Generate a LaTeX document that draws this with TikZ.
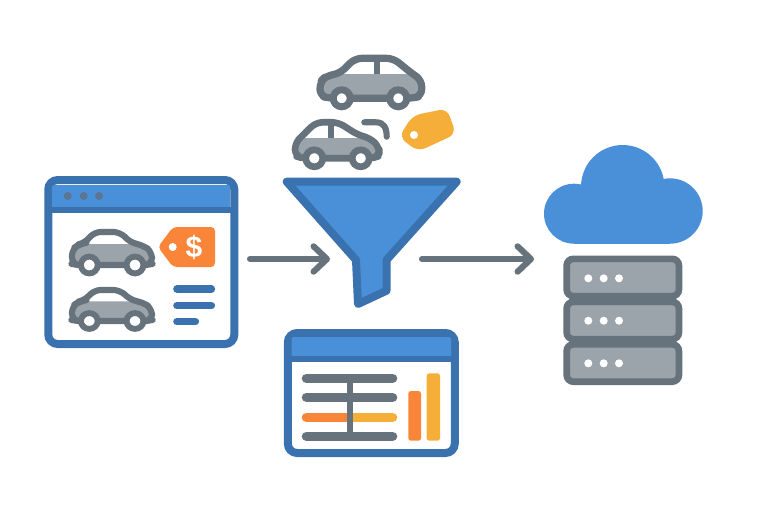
\documentclass[tikz,border=0pt]{standalone}
\usepackage{fontspec}
\setmainfont{Liberation Sans}
\usetikzlibrary{arrows.meta}
\definecolor{bluedark}{HTML}{3A72B0}
\definecolor{bluelight}{HTML}{4A90D9}
\definecolor{graydark}{HTML}{66727C}
\definecolor{grayfill}{HTML}{9BA3AB}
\definecolor{tagorange}{HTML}{F98539}
\definecolor{tagyellow}{HTML}{F5AE37}
\definecolor{dotgray}{HTML}{5C7592}
\tikzset{
  carline/.style={draw=graydark,line width=#1,line join=round,line cap=round,rounded corners=5pt},
  carfill/.style={fill=grayfill,rounded corners=3pt},
  wheel/.style={draw=graydark,fill=white,line width=#1},
  framebox/.style={draw=bluedark,fill=white,line width=6pt,rounded corners=7pt,inner sep=0pt,outer sep=0pt},
  headfill/.style={fill=bluelight,rounded corners=1.5pt},
  flow/.style={draw=graydark,line width=4.6pt,line cap=round,line join=round,-{Straight Barb[length=10pt,width=19pt,round]}},
  listline/.style={draw=bluedark,line width=5.4pt,line cap=round},
  rowline/.style={draw=graydark,line width=7.2pt,line cap=round},
  serverunit/.style={draw=graydark,fill=grayfill,line width=5pt,rounded corners=5pt,inner sep=0pt,outer sep=0pt,minimum width=84.2pt,minimum height=28pt},
}
\newcommand{\sitecar}{%
  \path[carfill] (-38,-21) -- (34,-21) -- (39,-14) -- (39,-3) -- (33,0) -- (-38,0) -- (-40,-8) -- cycle;
  \draw[carline=4.6pt] (-34,0) -- (-40,-1) -- (-40,-16) -- (-32,-21) -- (-27,-22) -- (-18,-33) -- (8,-33) -- (19,-22) -- (31,-20) -- (40,-13) -- (40,-1) -- (34,0) -- cycle;
  \draw[wheel=4.4pt] (-22.7,0) circle (8.4);
  \draw[wheel=4.4pt] (23,0) circle (8.4);
}
\begin{document}
\begin{tikzpicture}[x=.75pt,y=-.75pt]
\useasboundingbox (0,0) rectangle (768,512);
\fill[white] (0,0) rectangle (768,512);

% listing window
\node[framebox,minimum width=139.5pt,minimum height=123pt] (site) at (141.3,262) {};
\path[headfill] (52,185) rectangle (230,208);
\fill[bluedark] (50,207) rectangle (232.6,213);
\foreach \x in {67.7,83.7,99} \fill[dotgray] (\x,196) circle (4);
\begin{scope}[shift={(112,265)}]\sitecar\end{scope}
\begin{scope}[shift={(112,321)},yscale=.94]\sitecar\end{scope}
\fill[tagorange,rounded corners=3pt] (158,247) -- (173,227) -- (215,227) -- (215,267) -- (173,267) -- cycle;
\fill[white] (172.7,247) circle (4);
\node[text=white,font=\bfseries\fontsize{22.5}{22.5}\selectfont,inner sep=0pt] (price) at (194,247) {\$};
\draw[listline] (176.8,289) -- (211.5,289);
\draw[listline] (176.8,305.7) -- (211.5,305.7);
\draw[listline] (176.8,321.7) -- (195.5,321.7);

% cars above funnel
\path[carfill] (322,74) -- (410,74) -- (420,81) -- (420,96) -- (322,96) -- cycle;
\draw[carline=5.4pt] (330,98.3) -- (320,96) -- (320,82) -- (326,76) -- (340,73.3) -- (355,58.3) -- (393.3,58.3) -- (411.7,73.3) -- (421.7,80) -- (421.7,96) -- (412,98.3) -- cycle;
\draw[graydark,line width=4.5pt] (377.3,58.3) -- (377.3,74);
\draw[wheel=5.2pt] (341.7,98.3) circle (8.5);
\draw[wheel=5.2pt] (398.3,98.3) circle (8.5);

\path[carfill] (297,138) -- (368,138) -- (378,146) -- (378,156) -- (297,156) -- cycle;
\draw[carline=5pt] (303,158.3) -- (295,156) -- (295,143) -- (303,135) -- (316,122.3) -- (338.3,122.3) -- (358,135) -- (370,138) -- (379.3,147) -- (379.3,156) -- (372,158.3) -- cycle;
\draw[graydark,line width=4.2pt] (330.7,122.3) -- (330.7,138);
\draw[wheel=5pt] (314.3,158.3) circle (8.5);
\draw[wheel=5pt] (360.7,158.3) circle (8.5);
\draw[graydark,line width=4.6pt,line cap=round] (364.3,122.3) -- (376,122.3) .. controls (384,122.3) and (386.7,128) .. (386.7,136.7);
\fill[tagyellow,rounded corners=6pt] (399,137) -- (412.7,115.5) -- (447,108.5) -- (456,134) -- (418,151.5) -- cycle;
\fill[white] (414,135) circle (4);

% funnel
\draw[draw=bluedark,fill=bluelight,line width=6pt,line join=round] (286.7,181.7) -- (456.7,181.7) -- (386.5,260) -- (386.5,290.7) -- (358,304) -- (356,260) -- cycle;

% report window
\node[framebox,minimum width=125.2pt,minimum height=90pt] (report) at (371.3,393) {};
\path[headfill] (291.7,337) rectangle (451,357);
\fill[bluedark] (290,356) rectangle (453,362.3);
\draw[rowline] (306.5,378.3) -- (392.5,378.3);
\draw[rowline] (306.5,397.3) -- (392.5,397.3);
\draw[rowline,draw=tagorange] (306.5,417.3) -- (350,417.3);
\draw[rowline,draw=tagyellow] (345,417.3) -- (392.5,417.3);
\fill[tagorange] (335,412.5) rectangle (350,422.1);
\draw[rowline] (306.5,436.3) -- (392.5,436.3);
\draw[graydark,line width=3.8pt] (350,378.3) -- (350,436.3);
\fill[tagorange,rounded corners=2pt] (408.3,391) rectangle (421,440.7);
\fill[tagyellow,rounded corners=2pt] (426.7,373.3) rectangle (440,440.7);

% cloud
\fill[bluelight] (622.7,186.7) circle (41.7);
\fill[bluelight] (574,213.7) circle (30);
\fill[bluelight] (670,211) circle (32.7);
\fill[bluelight] (574,190) rectangle (670,243.7);

% server stack
\node[serverunit] (s1) at (622.8,277.5) {};
\node[serverunit] (s2) at (622.8,320.5) {};
\node[serverunit] (s3) at (622.8,363) {};
\foreach \y in {278.3,320.7,363.3}
  \foreach \x in {588.3,603.7,619} \fill[white] (\x,\y) circle (4);

% connectors
\coordinate (flowA) at (250,259);
\coordinate (flowB) at (330,259);
\coordinate (flowC) at (422,259);
\coordinate (flowD) at (534,259);
\draw[flow] (flowA) -- (flowB);
\draw[flow] (flowC) -- (flowD);
\end{tikzpicture}
\end{document}
